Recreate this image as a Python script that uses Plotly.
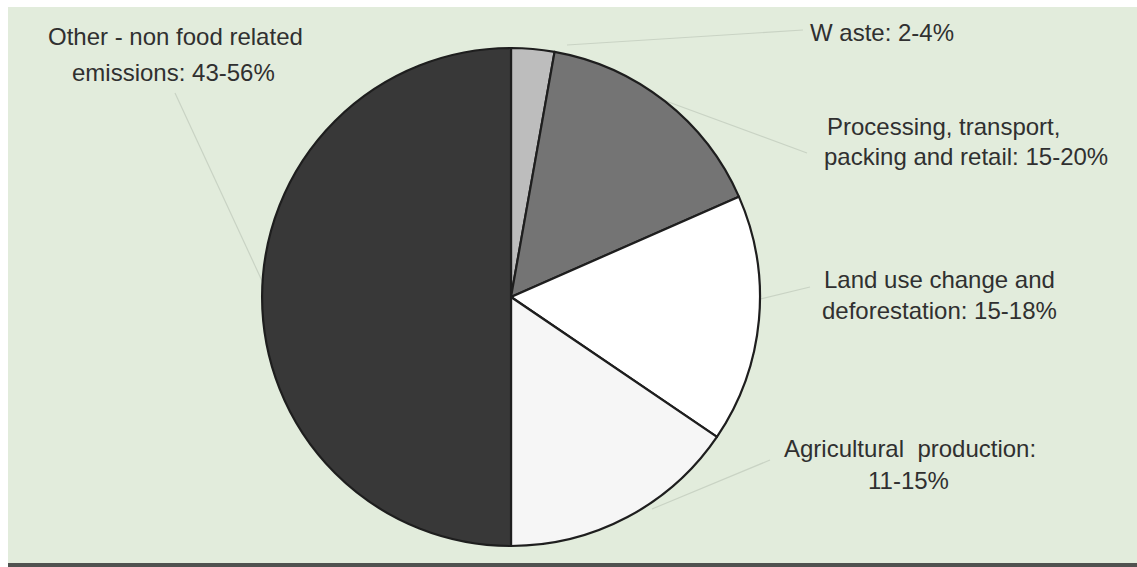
import plotly.graph_objects as go

labels = ["Waste", "Processing, transport, packing and retail", "Land use change and deforestation",
          "Agricultural production", "Other - non food related emissions"]
values = [2.8, 15.6, 16.1, 15.5, 50.0]
colors = ["#bdbdbd", "#747474", "#ffffff", "#f6f6f6", "#383838"]

W, H = 1137, 567
def px(x): return x / W
def py(y): return 1 - y / H

fig = go.Figure()
fig.add_trace(go.Pie(
    labels=labels, values=values, sort=False, direction="clockwise", rotation=0,
    marker=dict(colors=colors, line=dict(color="#1e1e1e", width=2.2)),
    textinfo="none", hoverinfo="label+percent", showlegend=False,
    domain=dict(x=[px(262), px(760)], y=[py(547), py(47)]),
))

shapes = [
    dict(type="rect", xref="paper", yref="paper", x0=px(8), x1=1, y0=py(563), y1=py(7),
         fillcolor="#e2ecdc", line=dict(width=0), layer="below"),
    dict(type="rect", xref="paper", yref="paper", x0=px(8), x1=1, y0=0, y1=py(563),
         fillcolor="#505250", line=dict(width=0), layer="below"),
]
leaders = [((175, 93), (263, 283)), ((567, 45), (803, 30)), ((663, 100), (807, 153)),
           ((756, 300), (810, 287)), ((652, 509), (770, 460))]
for (a, b) in leaders:
    shapes.append(dict(type="line", xref="paper", yref="paper", x0=px(a[0]), y0=py(a[1]),
                       x1=px(b[0]), y1=py(b[1]), line=dict(color="#c9d3c4", width=1.2),
                       layer="below"))

texts = [
    ("Other - non food related", 175, 37, "center"),
    ("emissions: 43-56%", 173, 73, "center"),
    ("W aste: 2-4%", 882, 33, "center"),
    ("Processing, transport,", 825, 126, "left"),
    ("packing and retail: 15-20%", 822, 157, "left"),
    ("Land use change and", 939, 279, "center"),
    ("deforestation: 15-18%", 939, 310, "center"),
    ("Agricultural  production:", 910, 448, "center"),
    ("11-15%", 908, 480, "center"),
]
annotations = []
for t, x, y, anc in texts:
    annotations.append(dict(text=t, x=px(x), y=py(y), xref="paper", yref="paper",
                            xanchor=anc, yanchor="middle", showarrow=False,
                            font=dict(family="Liberation Sans, Arial", size=24, color="#303030")))

fig.update_layout(width=W, height=H, margin=dict(l=0, r=0, t=0, b=0),
                  paper_bgcolor="white", plot_bgcolor="white",
                  shapes=shapes, annotations=annotations)
fig.write_html("out.html")
